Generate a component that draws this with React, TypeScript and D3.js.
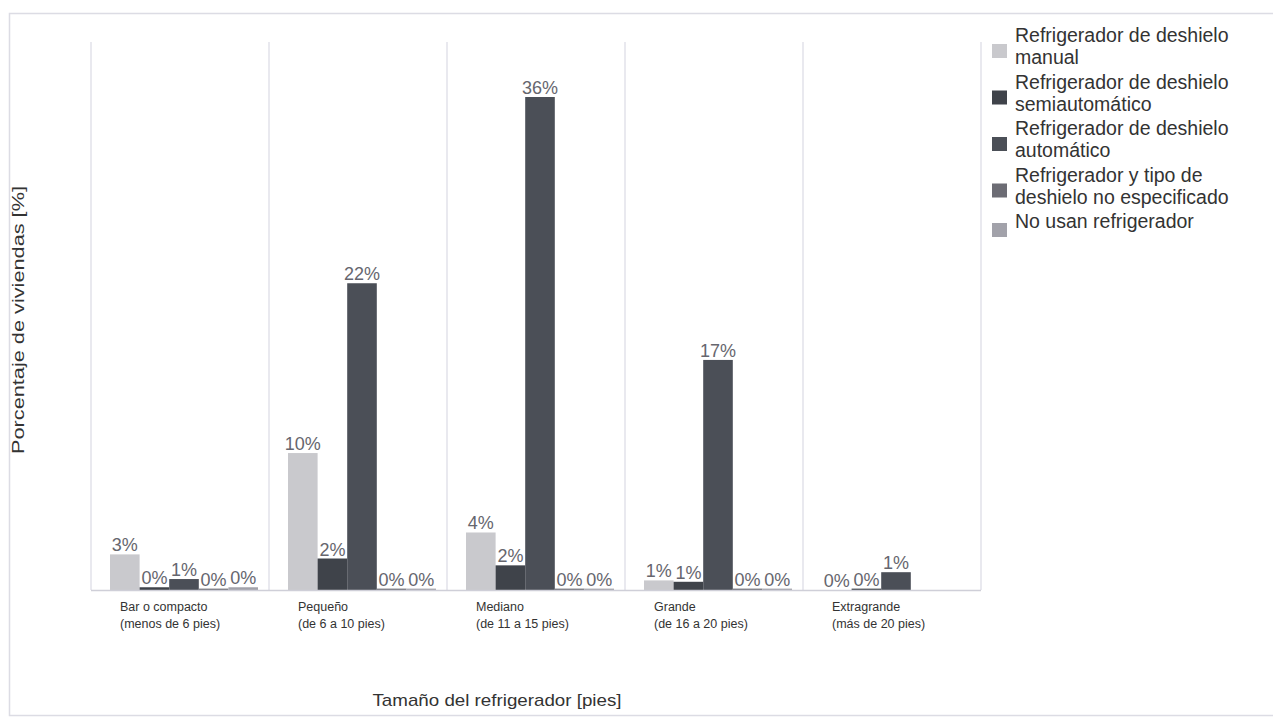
import * as d3 from "d3";
import { useEffect, useRef } from "react";

const categories = [
  ["Bar o compacto", "(menos de 6 pies)"],
  ["Pequeño", "(de 6 a 10 pies)"],
  ["Mediano", "(de 11 a 15 pies)"],
  ["Grande", "(de 16 a 20 pies)"],
  ["Extragrande", "(más de 20 pies)"],
];

const seriesNames = [
  ["Refrigerador de deshielo", "manual"],
  ["Refrigerador de deshielo", "semiautomático"],
  ["Refrigerador de deshielo", "automático"],
  ["Refrigerador y tipo de", "deshielo no especificado"],
  ["No usan refrigerador"],
];

// null = not shown in the chart
const manual = [2.6, 10.0, 4.2, 0.7, 0.0];
const semiauto = [0.2, 2.3, 1.8, 0.6, 0.1];
const automatico = [0.8, 22.4, 36.0, 16.8, 1.3];
const noEspecificado = [0.1, 0.1, 0.1, 0.1, null];
const noUsan = [0.2, 0.1, 0.1, 0.1, null];

const seriesValues = [manual, semiauto, automatico, noEspecificado, noUsan];
const colors = ["#c9c9cd", "#3f434a", "#4b4f57", "#6c6c74", "#a2a2aa"];

const W = 1273;
const H = 723;

export default function App() {
  const ref = useRef<SVGSVGElement>(null);

  useEffect(() => {
    const svg = d3.select(ref.current);
    svg.selectAll("*").remove();
    const font = "'Liberation Sans', Arial, sans-serif";

    const margin = { left: 91, right: 292, top: 42, bottom: 133 };
    const baseY = H - margin.bottom;

    // frame
    svg.append("rect")
      .attr("x", 9.5).attr("y", 13.5)
      .attr("width", W - 8).attr("height", 702)
      .attr("fill", "none").attr("stroke", "#dcdce4").attr("stroke-width", 1.5);

    const x0 = d3.scaleBand<number>()
      .domain(d3.range(categories.length))
      .range([margin.left, W - margin.right]);

    const x1 = d3.scaleBand<number>()
      .domain(d3.range(seriesValues.length))
      .range([19, x0.bandwidth() - 11]);

    const y = d3.scaleLinear().domain([0, 36]).range([baseY, 97]);

    // vertical gridlines
    svg.append("g")
      .selectAll("line")
      .data(d3.range(categories.length + 1))
      .join("line")
      .attr("x1", (i) => margin.left + i * x0.bandwidth())
      .attr("x2", (i) => margin.left + i * x0.bandwidth())
      .attr("y1", margin.top)
      .attr("y2", baseY)
      .attr("stroke", "#e2e2ea")
      .attr("stroke-width", 1.5);

    // bars
    const groups = svg.append("g")
      .selectAll("g")
      .data(categories.map((_, i) => i))
      .join("g")
      .attr("transform", (i) => `translate(${x0(i)},0)`);

    const cells = (ci: number) =>
      seriesValues
        .map((s, si) => ({ si, v: s[ci] as number | null }))
        .filter((d) => d.v !== null) as { si: number; v: number }[];

    groups.selectAll("rect")
      .data(cells)
      .join("rect")
      .attr("x", (d) => x1(d.si)!)
      .attr("y", (d) => y(d.v))
      .attr("width", x1.bandwidth())
      .attr("height", (d) => baseY - y(d.v))
      .attr("fill", (d) => colors[d.si]);

    groups.selectAll("text")
      .data(cells)
      .join("text")
      .attr("x", (d) => x1(d.si)! + x1.bandwidth() / 2)
      .attr("y", (d) => y(d.v) - 3)
      .attr("text-anchor", "middle")
      .attr("font-family", font)
      .attr("font-size", 18)
      .attr("fill", "#66666e")
      .text((d) => `${Math.round(d.v)}%`);

    // baseline
    svg.append("line")
      .attr("x1", margin.left).attr("x2", W - margin.right)
      .attr("y1", baseY + 0.5).attr("y2", baseY + 0.5)
      .attr("stroke", "#cfcfd8").attr("stroke-width", 1.5);

    // category labels
    const cat = svg.append("g")
      .selectAll("text")
      .data(categories)
      .join("text")
      .attr("x", (_, i) => x0(i)! + 29)
      .attr("y", baseY + 21)
      .attr("font-family", font)
      .attr("font-size", 12.5)
      .attr("fill", "#333");
    cat.selectAll("tspan")
      .data((d) => d)
      .join("tspan")
      .attr("x", function () {
        return (this.parentNode as SVGTextElement).getAttribute("x");
      })
      .attr("dy", (_, i) => (i === 0 ? 0 : 17))
      .text((d) => d);

    // axis titles
    svg.append("text")
      .attr("transform", `translate(24,${320}) rotate(-90)`)
      .attr("text-anchor", "middle")
      .attr("font-family", font)
      .attr("font-size", 17)
      .attr("textLength", 268)
      .attr("lengthAdjust", "spacingAndGlyphs")
      .attr("fill", "#333")
      .text("Porcentaje de viviendas [%]");

    svg.append("text")
      .attr("x", 497)
      .attr("y", 706)
      .attr("text-anchor", "middle")
      .attr("font-family", font)
      .attr("font-size", 17)
      .attr("textLength", 249)
      .attr("lengthAdjust", "spacingAndGlyphs")
      .attr("fill", "#333")
      .text("Tamaño del refrigerador [pies]");

    // legend
    const legend = svg.append("g").attr("transform", "translate(992,0)");
    let ly = 42;
    seriesNames.forEach((lines, i) => {
      const swY = lines.length > 1 ? ly + 2 : ly - 5;
      legend.append("rect")
        .attr("x", 0).attr("y", swY)
        .attr("width", 15).attr("height", 14)
        .attr("fill", colors[i]);
      lines.forEach((t, j) => {
        legend.append("text")
          .attr("x", 23)
          .attr("y", ly + j * 22)
          .attr("font-family", font)
          .attr("font-size", 19.5)
          .attr("fill", "#333")
          .text(t);
      });
      ly += lines.length * 22 + 2.5;
    });
  }, []);

  return <svg ref={ref} width={W} height={H} style={{ position: "absolute", left: 0, top: 0, background: "#fff" }} />;
}
